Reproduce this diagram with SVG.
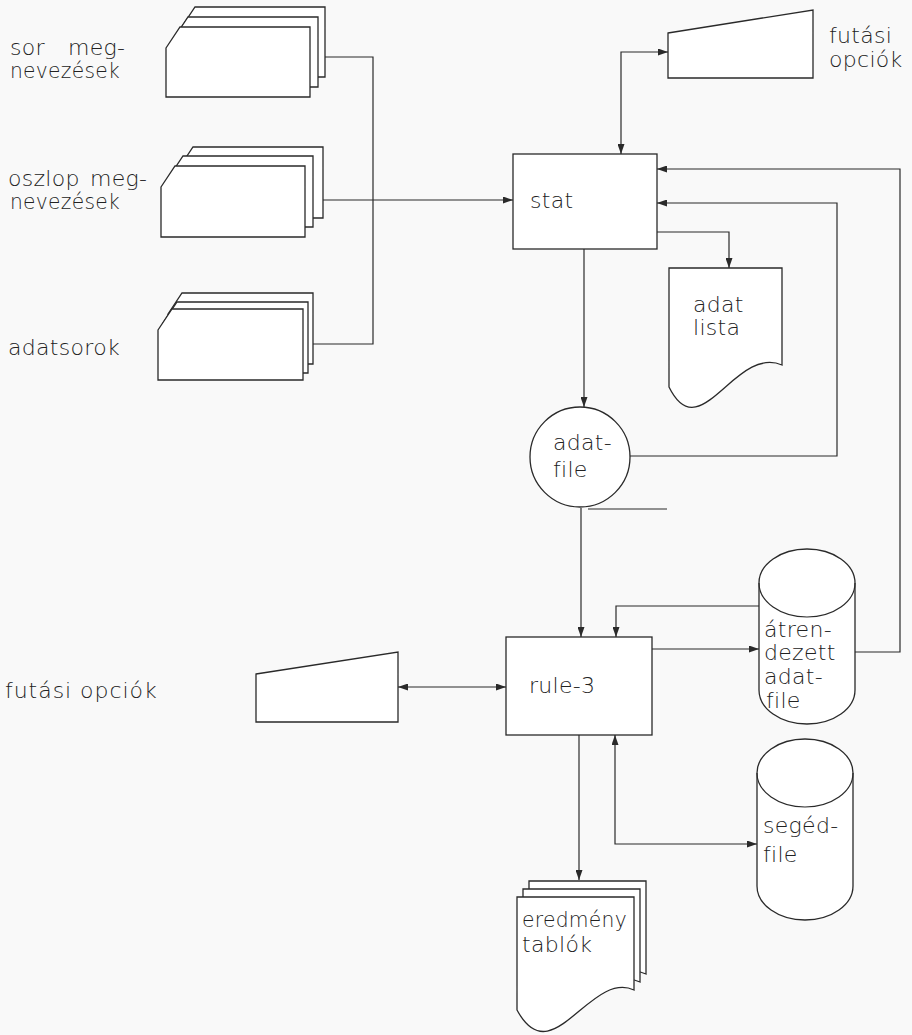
<svg xmlns="http://www.w3.org/2000/svg" width="912" height="1035" viewBox="0 0 912 1035">
<defs>
<style>
.s{fill:#fff;stroke:#2a2a2a;stroke-width:1.3}
.c{fill:none;stroke:#2a2a2a;stroke-width:1.2}
.t{font-family:"DejaVu Sans","Liberation Sans",sans-serif;font-weight:200;font-size:22px;fill:#222;letter-spacing:0.3px}
</style>
<marker id="a" viewBox="0 0 10 7" refX="10" refY="3.5" markerUnits="userSpaceOnUse" markerWidth="10" markerHeight="7" orient="auto-start-reverse">
<path d="M0,0 L10,3.5 L0,7 z" fill="#2a2a2a"/>
</marker>
</defs>
<rect width="912" height="1035" fill="#f9f9f9"/>

<g id="connectors">
<path class="c" d="M325,57 H373 V344 H313"/>
<path class="c" d="M323,200 H513" marker-end="url(#a)"/>
<path class="c" d="M668,52 H621 V154" marker-start="url(#a)" marker-end="url(#a)"/>
<path class="c" d="M657,232 H729 V268" marker-end="url(#a)"/>
<path class="c" d="M584,249 V407" marker-end="url(#a)"/>
<path class="c" d="M630,456 H837 V203 H657" marker-end="url(#a)"/>
<path class="c" d="M855,652 H900 V169 H657" marker-end="url(#a)"/>
<path class="c" d="M581,508 V637" marker-end="url(#a)"/>
<path class="c" d="M759,606 H616 V637" marker-end="url(#a)"/>
<path class="c" d="M652,649 H759" marker-end="url(#a)"/>
<path class="c" d="M398,687 H506" marker-start="url(#a)" marker-end="url(#a)"/>
<path class="c" d="M615,735 V844 H757" marker-start="url(#a)" marker-end="url(#a)"/>
<path class="c" d="M579,735 V880" marker-end="url(#a)"/>
<path class="c" d="M588,509 H667"/>
</g>

<g id="sor-megnevezesek">
<polygon class="s" points="181,28 195,7 325,7 325,77 181,77"/>
<polygon class="s" points="174,38 188,17 318,17 318,87 174,87"/>
<polygon class="s" points="166,48 180,27 310,27 310,97 166,97"/>
<text class="t" x="10" y="55">sor <tspan x="68">meg-</tspan></text>
<text class="t" x="10" y="78" textLength="110" lengthAdjust="spacingAndGlyphs">nevezések</text>
</g>

<g id="oszlop-megnevezesek">
<polygon class="s" points="179,168 193,147 323,147 323,218 179,218"/>
<polygon class="s" points="169,177 183,156 313,156 313,227 169,227"/>
<polygon class="s" points="161,187 175,166 305,166 305,237 161,237"/>
<text class="t" x="8" y="186">oszlop <tspan x="90">meg-</tspan></text>
<text class="t" x="10" y="209" textLength="110" lengthAdjust="spacingAndGlyphs">nevezések</text>
</g>

<g id="adatsorok">
<polygon class="s" points="168,314 182,293 313,293 313,364 168,364"/>
<polygon class="s" points="163,323 177,302 308,302 308,373 163,373"/>
<polygon class="s" points="158,330 172,309 303,309 303,380 158,380"/>
<text class="t" x="8" y="355">adatsorok</text>
</g>

<g id="futasi-opciok-1">
<polygon class="s" points="668,33 813,10 813,78 668,78"/>
<text class="t" x="829" y="43">futási</text>
<text class="t" x="829" y="67">opciók</text>
</g>

<g id="stat">
<rect class="s" x="513" y="154" width="144" height="95"/>
<text class="t" x="530" y="208">stat</text>
</g>

<g id="adat-lista">
<path class="s" d="M669,268 H782 V365 C735,345 700,450 669,387 Z"/>
<text class="t" x="693" y="312">adat</text>
<text class="t" x="693" y="335">lista</text>
</g>

<g id="adat-file">
<circle class="s" cx="580" cy="457" r="50"/>
<text class="t" x="553" y="450">adat-</text>
<text class="t" x="553" y="477">file</text>
</g>

<g id="atrendezett-adat-file">
<path class="s" d="M759,583 V690 A48,34 0 0 0 855,690 V583 A48,34 0 0 0 759,583 Z"/>
<path class="c" d="M759,583 A48,34 0 0 0 855,583"/>
<text class="t" x="764" y="637">átren-</text>
<text class="t" x="764" y="660">dezett</text>
<text class="t" x="764" y="684">adat-</text>
<text class="t" x="766" y="708">file</text>
</g>

<g id="futasi-opciok-2">
<polygon class="s" points="256,674 398,652 398,722 256,722"/>
<text class="t" x="5" y="698" textLength="152" lengthAdjust="spacing">futási opciók</text>
</g>

<g id="rule-3">
<rect class="s" x="506" y="637" width="146" height="98"/>
<text class="t" x="529" y="693">rule-3</text>
</g>

<g id="seged-file">
<path class="s" d="M757,773 V886 A48,34 0 0 0 853,886 V773 A48,34 0 0 0 757,773 Z"/>
<path class="c" d="M757,773 A48,34 0 0 0 853,773"/>
<text class="t" x="763" y="833">segéd-</text>
<text class="t" x="763" y="862">file</text>
</g>

<g id="eredmeny-tablok">
<path class="s" d="M529,881 H646 V974 C602,954 564,1059 529,994 Z"/>
<path class="s" d="M523,889 H640 V982 C596,962 558,1067 523,1002 Z"/>
<path class="s" d="M517,897 H634 V990 C590,970 552,1075 517,1010 Z"/>
<text class="t" x="522" y="927" textLength="105" lengthAdjust="spacingAndGlyphs">eredmény</text>
<text class="t" x="522" y="952">tablók</text>
</g>
</svg>
